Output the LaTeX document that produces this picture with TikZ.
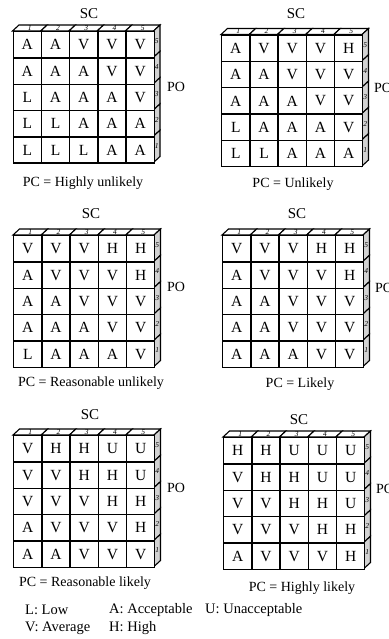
\documentclass[tikz,border=0pt]{standalone}
\usepackage{fontspec}
\setmainfont{Liberation Serif}
\newcommand{\cw}{28.2}
\newcommand{\ch}{26.3}
\newcommand{\dx}{6.5}
\newcommand{\dy}{6}
\tikzset{
  cell/.style={draw, line width=1.4pt, minimum width=28.2pt, minimum height=26.3pt,
    inner sep=0pt, anchor=north west, fill=white, font=\fontsize{15.5}{15.5}\selectfont},
  topface/.style={draw, line width=1.1pt, fill=white},
  sideface/.style={draw, line width=1.1pt, fill=gray!35},
  idx/.style={font=\fontsize{7.5}{7.5}\selectfont\itshape, inner sep=0pt},
  lbl/.style={font=\fontsize{14}{14}\selectfont, inner sep=0pt},
  sclbl/.style={font=\fontsize{15}{15}\selectfont, inner sep=0pt},
  leg/.style={font=\fontsize{14.5}{14.5}\selectfont, inner sep=0pt, anchor=west},
}
\newcommand{\cubegrid}[4]{%
  \begin{scope}[shift={(#2,#3)}]
    \foreach \c in {1,...,5} {
      \path[topface] ({(\c-1)*\cw},0) -- ++(\dx,-\dy) -- ++(\cw,0) -- ++(-\dx,\dy) -- cycle;
      \node[idx] (#1-t\c) at ({(\c-0.5)*\cw+\dx/2},{-\dy/2}) {\c};
    }
    \foreach \r in {1,...,5} {
      \pgfmathtruncatemacro{\lab}{6-\r}
      \path[sideface] ({5*\cw},{(\r-1)*\ch}) -- ++(\dx,-\dy) -- ++(0,\ch) -- ++(-\dx,\dy) -- cycle;
      \node[idx] (#1-s\r) at ({5*\cw+\dx/2},{(\r-0.5)*\ch-\dy/2}) {\lab};
    }
    \foreach \row [count=\r] in {#4} {
      \foreach \v [count=\c] in \row {
        \node[cell] (#1-\r-\c) at ({(\c-1)*\cw},{(\r-1)*\ch}) {\v};
      }
    }
  \end{scope}}
\begin{document}
\begin{tikzpicture}[x=1pt,y=-1pt]
\useasboundingbox[fill=white] (0,0) rectangle (388,639);
% grid 1
\cubegrid{ga}{12.5}{31}{{A,A,V,V,V},{A,A,A,V,V},{L,A,A,A,V},{L,L,A,A,A},{L,L,L,A,A}}
\node[sclbl] (ga-sc) at (89,14) {SC};
\node[lbl] (ga-po) at (176,87) {PO};
\node[lbl] (ga-pc) at (83,183) {PC = Highly unlikely};
% grid 2
\cubegrid{gb}{221}{34.5}{{A,V,V,V,H},{A,A,V,V,V},{A,A,A,V,V},{L,A,A,A,V},{L,L,A,A,A}}
\node[sclbl] (gb-sc) at (296,14) {SC};
\node[lbl] (gb-po) at (383,88) {PO};
\node[lbl] (gb-pc) at (293,184) {PC = Unlikely};
% grid 3
\cubegrid{gc}{13}{235}{{V,V,V,H,H},{A,V,V,V,H},{A,A,V,V,V},{A,A,A,V,V},{L,A,A,A,V}}
\node[sclbl] (gc-sc) at (91,214) {SC};
\node[lbl] (gc-po) at (176,287) {PO};
\node[lbl] (gc-pc) at (91,383) {PC = Reasonable unlikely};
% grid 4
\cubegrid{gd}{222}{235}{{V,V,V,H,H},{A,V,V,V,H},{A,A,V,V,V},{A,A,V,V,V},{A,A,A,V,V}}
\node[sclbl] (gd-sc) at (297,214) {SC};
\node[lbl] (gd-po) at (384,288) {PO};
\node[lbl] (gd-pc) at (300,384) {PC = Likely};
% grid 5
\cubegrid{ge}{13}{435}{{V,H,H,U,U},{V,V,H,H,U},{V,V,V,H,H},{A,V,V,V,H},{A,A,V,V,V}}
\node[sclbl] (ge-sc) at (90,415) {SC};
\node[lbl] (ge-po) at (176,488) {PO};
\node[lbl] (ge-pc) at (85,583) {PC = Reasonable likely};
% grid 6
\cubegrid{gf}{223}{437}{{H,H,U,U,U},{V,H,H,U,U},{V,V,H,H,U},{V,V,V,H,H},{A,V,V,V,H}}
\node[sclbl] (gf-sc) at (299,420) {SC};
\node[lbl] (gf-po) at (385,489) {PO};
\node[lbl] (gf-pc) at (302,588) {PC = Highly likely};
% legend
\node[leg] (lg-l) at (25,610) {L: Low};
\node[leg] (lg-a) at (109,610) {A: Acceptable};
\node[leg] (lg-u) at (205,610) {U: Unacceptable};
\node[leg] (lg-v) at (25,628) {V: Average};
\node[leg] (lg-h) at (109,628) {H: High};
\end{tikzpicture}
\end{document}
